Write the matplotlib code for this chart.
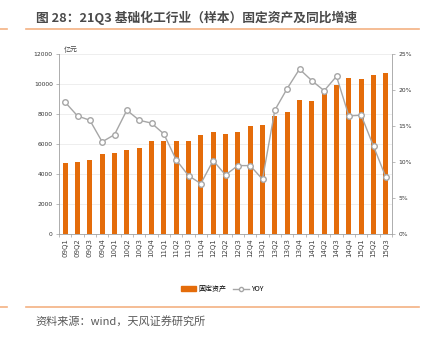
import matplotlib
matplotlib.use("Agg")
import matplotlib.pyplot as plt
import numpy as np
from matplotlib.lines import Line2D
from matplotlib.patches import Patch

plt.rcParams['font.family'] = ['Noto Sans CJK SC', 'DejaVu Sans']

quarters = ['09Q1', '09Q2', '09Q3', '09Q4', '10Q1', '10Q2', '10Q3', '10Q4',
            '11Q1', '11Q2', '11Q3', '11Q4', '12Q1', '12Q2', '12Q3', '12Q4',
            '13Q1', '13Q2', '13Q3', '13Q4', '14Q1', '14Q2', '14Q3', '14Q4',
            '15Q1', '15Q2', '15Q3']
fixed_assets = [4740, 4790, 4930, 5350, 5400, 5600, 5730, 6180,
                6170, 6180, 6180, 6600, 6780, 6690, 6780, 7220,
                7290, 7840, 8160, 8910, 8870, 9490, 9930, 10380,
                10330, 10600, 10710]
yoy = [18.3, 16.4, 15.8, 12.8, 13.8, 17.2, 15.8, 15.4,
       13.9, 10.3, 8.1, 7.0, 10.2, 8.2, 9.5, 9.5,
       7.6, 17.2, 20.2, 22.9, 21.3, 19.9, 21.9, 16.4,
       16.5, 12.2, 7.9]
left_ticks = [0, 2000, 4000, 6000, 8000, 10000, 12000]
right_ticks = [0, 5, 10, 15, 20, 25]

orange = '#E46C0A'
gray = '#A6A6A6'
axis_gray = '#A0A0A0'
accent = '#F4B183'

fig = plt.figure(figsize=(4.23, 3.42), dpi=100)

# title and rules
fig.text(36 / 423, 1 - 18 / 342, '图 28：21Q3 基础化工行业（样本）固定资产及同比增速',
         fontsize=9.2, fontweight='bold', color='#4A4A4A', va='center', ha='left')
for y in (29, 307):
    fig.add_artist(Line2D([0, 7 / 423], [1 - y / 342] * 2, color=accent, lw=1.2))
    fig.add_artist(Line2D([26 / 423, 419 / 423], [1 - y / 342] * 2, color=accent, lw=1.2))
fig.text(35 / 423, 1 - 321 / 342, '资料来源：wind，天风证券研究所',
         fontsize=8, color='#595959', va='center', ha='left')

ax = fig.add_axes([59 / 423, 1 - 234 / 342, 333 / 423, 180 / 342])
x = np.arange(len(quarters))
ax.bar(x, fixed_assets, width=0.42, color=orange, zorder=2)
ax.set_xlim(-0.5, len(quarters) - 0.5)
ax.set_ylim(0, 12000)
ax.set_yticks(left_ticks)
ax.set_yticklabels([str(v) for v in left_ticks], fontsize=4.3, color='#333333',
                   family='DejaVu Sans')
ax.grid(axis='y', color='#EBEBEB', lw=0.6, zorder=0)
ax.set_axisbelow(True)
ax.set_xticks(x)
ax.set_xticklabels(quarters, rotation=90, fontsize=5, color='#444444', family='DejaVu Sans')
ax.set_xticks(np.arange(len(quarters) + 1) - 0.5, minor=True)
ax.tick_params(axis='x', which='major', length=0, pad=3)
ax.tick_params(axis='x', which='minor', length=2.5, width=0.5, color=axis_gray)
ax.tick_params(axis='y', length=2.5, width=0.5, color=axis_gray, pad=2)
for s in ('top', 'right'):
    ax.spines[s].set_visible(False)
for s in ('left', 'bottom'):
    ax.spines[s].set_color(axis_gray)
    ax.spines[s].set_linewidth(0.6)
ax.text(64 / 423, 1 - 50 / 342, '亿元', transform=fig.transFigure, fontsize=5,
        color='#444444', va='center', ha='left')

ax2 = ax.twinx()
ax2.plot(x, yoy, color=gray, lw=1.0, marker='o', markersize=4,
         markerfacecolor='white', markeredgecolor=gray, markeredgewidth=1.0, zorder=3)
ax2.set_ylim(0, 25)
ax2.set_yticks(right_ticks)
ax2.set_yticklabels([f'{v}%' for v in right_ticks], fontsize=4.3, color='#333333',
                    family='DejaVu Sans')
ax2.tick_params(axis='y', length=2.5, width=0.5, color=axis_gray, pad=2)
for s in ('top', 'left', 'bottom'):
    ax2.spines[s].set_visible(False)
ax2.spines['right'].set_color(axis_gray)
ax2.spines['right'].set_linewidth(0.6)

handles = [Patch(color=orange),
           Line2D([], [], color=gray, lw=1.0, marker='o', markersize=3,
                  markerfacecolor='white', markeredgecolor=gray)]
fig.legend(handles, ['固定资产', 'YOY'], loc='center', bbox_to_anchor=(222 / 423, 1 - 289 / 342),
           ncol=2, frameon=False, fontsize=5, handlelength=2.2, handleheight=0.6,
           columnspacing=1.0, handletextpad=0.3)

fig.savefig('out.png', dpi=100)
